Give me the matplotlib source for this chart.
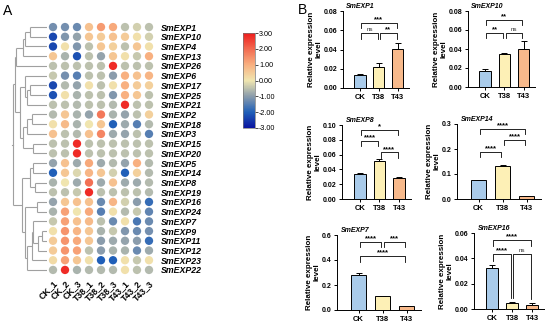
import numpy as np
import matplotlib
matplotlib.use("Agg")
import matplotlib.pyplot as plt
from matplotlib.colors import LinearSegmentedColormap, Normalize
from matplotlib.cm import ScalarMappable

plt.rcParams['font.family'] = ['Liberation Sans', 'DejaVu Sans']

# ---------------- data: heatmap ----------------
genes_hm = ["SmEXP1", "SmEXP10", "SmEXP4", "SmEXP13", "SmEXP26", "SmEXP6", "SmEXP17",
            "SmEXP25", "SmEXP21", "SmEXP2", "SmEXP18", "SmEXP3", "SmEXP15", "SmEXP20",
            "SmEXP5", "SmEXP14", "SmEXP8", "SmEXP19", "SmEXP16", "SmEXP24", "SmEXP7",
            "SmEXP9", "SmEXP11", "SmEXP12", "SmEXP23", "SmEXP22"]
samples = ["CK_1", "CK_2", "CK_3", "T38_1", "T38_2", "T38_3", "T43_1", "T43_2", "T43_3"]
hm_values = [
    [-1.2, -1.2, -1.3, 0.7, 1.3, 1.1, -0.5, -0.3, -0.5],
    [-2.3, -1.1, -0.9, 0.6, 0.5, 0.7, 0.5, 0.1, -0.3],
    [-2.3, 0.1, -1.1, -0.5, 0.6, 0.4, -0.5, 0.6, 0.1],
    [0.6, -0.7, -2.2, -0.5, -0.9, 0.6, 0.1, -0.4, 1.0],
    [-0.5, -0.5, -0.5, -0.5, -0.5, 2.8, -0.5, -0.5, -0.5],
    [-0.4, -1.2, -1.5, -0.5, -0.5, -1.0, 1.0, 0.7, 0.9],
    [-2.3, -0.6, -0.9, 0.1, -0.5, 0.1, 1.0, 0.5, 0.4],
    [-2.2, 0.1, -0.7, -0.5, -0.5, -1.1, 1.0, 0.6, -0.5],
    [-0.5, -0.5, -0.6, -0.5, -0.5, -0.6, 2.8, -0.5, -0.5],
    [-0.6, 0.6, -0.7, -0.9, 1.8, -0.7, -0.9, -0.5, 0.4],
    [0.1, 0.8, -0.7, 0.0, 0.6, -2.0, -0.8, -1.5, -0.6],
    [0.7, -0.5, -0.6, 0.7, 1.6, -0.8, -0.9, -0.5, -1.5],
    [-0.5, -0.5, 2.8, -0.5, -0.5, -0.5, -0.5, -0.5, -0.5],
    [-0.5, -0.5, 2.8, -0.5, -0.5, -0.5, -0.5, -0.5, -0.5],
    [-0.9, 0.7, -0.8, 1.1, -0.8, -0.6, -0.9, 1.0, -0.6],
    [-2.0, 0.6, -0.2, 0.9, 0.6, -0.3, -2.0, 0.4, -0.6],
    [-0.7, 0.0, -0.8, 1.9, -0.8, 0.7, -0.8, -0.8, -0.6],
    [-0.5, -0.5, -0.4, 2.8, -0.5, -0.5, -0.5, -0.5, -0.6],
    [-0.9, 0.6, 0.7, 0.7, -1.3, 0.9, -0.3, -1.0, -1.8],
    [-0.7, 1.2, 0.0, 1.1, -1.5, 0.1, -0.6, -0.4, -1.4],
    [-0.4, 1.2, 0.7, 0.8, -0.5, -1.3, 0.1, -1.6, -1.3],
    [0.1, 1.4, 0.9, 0.6, -0.7, -0.4, -1.1, -1.3, -1.2],
    [0.5, 1.4, 1.1, 0.6, -1.0, -0.8, -0.9, -1.0, -1.8],
    [0.5, 1.4, 1.2, -0.5, -1.0, -0.7, -0.7, -1.3, -0.8],
    [0.2, 1.2, 0.6, 0.1, -2.0, -2.0, 0.1, -0.4, 0.1],
    [-0.6, 2.8, -0.7, -0.6, -0.6, -0.6, 0.1, -0.5, -0.6],
]
cbar_ticks = [3, 2, 1, 0, -1, -2, -3]

# dendrogram (left, right, distance)
tree_A = ((("SmEXP1", "SmEXP10", 5.0), "SmEXP4", 6.5), "SmEXP13", 7.1)
tree_G6 = ("SmEXP6", (("SmEXP17", "SmEXP25", 5.0), "SmEXP21", 5.9), 6.5)
tree_M = ((("SmEXP2", "SmEXP18", 4.4), "SmEXP3", 5.9), ("SmEXP15", "SmEXP20", 4.1), 7.1)
tree_T = ((tree_A, "SmEXP26", 9.1), (tree_G6, tree_M, 8.0), 9.4)
tree_L1 = (("SmEXP5", "SmEXP14", 4.1), ("SmEXP8", "SmEXP19", 3.5), 5.0)
tree_L2 = (("SmEXP16", "SmEXP24", 2.9),
           ((("SmEXP7", (("SmEXP9", "SmEXP11", 1.5), "SmEXP12", 2.6), 4.1), "SmEXP23", 4.4),
            "SmEXP22", 5.9), 6.5)
tree_root = (tree_T, (tree_L1, tree_L2, 7.4), 10.0)

# ---------------- data: bar charts ----------------
bar_genes = ["SmEXP1", "SmEXP10", "SmEXP8", "SmEXP14", "SmEXP7", "SmEXP16"]
groups = ["CK", "T38", "T43"]
means = [
    [0.014, 0.022, 0.041],
    [0.017, 0.035, 0.040],
    [0.034, 0.052, 0.029],
    [0.075, 0.132, 0.012],
    [0.280, 0.110, 0.030],
    [0.032, 0.0045, 0.0035],
]
errs = [
    [0.001, 0.004, 0.006],
    [0.002, 0.001, 0.008],
    [0.001, 0.002, 0.001],
    [0.002, 0.003, 0.001],
    [0.020, 0.003, 0.003],
    [0.003, 0.001, 0.0015],
]
ymaxes = [0.08, 0.08, 0.10, 0.3, 0.6, 0.06]
ysteps = [0.02, 0.02, 0.02, 0.1, 0.2, 0.02]
brackets = [
    [(0, 1, 0.057, "ns"), (1, 2, 0.057, "**"), (0, 2, 0.068, "***")],
    [(0, 1, 0.057, "**"), (1, 2, 0.057, "ns"), (0, 2, 0.071, "**")],
    [(0, 1, 0.079, "****"), (1, 2, 0.063, "****"), (0, 2, 0.093, "*")],
    [(0, 1, 0.19, "****"), (1, 2, 0.237, "****"), (0, 2, 0.28, "****")],
    [(0, 1, 0.546, "****"), (1, 2, 0.546, "***"), (0, 2, 0.43, "****")],
    [(0, 1, 0.0437, "****"), (1, 2, 0.0437, "ns"), (0, 2, 0.0542, "****")],
]
legs_to_bar = [False, False, False, False, False, True]

# ---------------- figure ----------------
W, H = 550, 323
fig = plt.figure(figsize=(W / 100, H / 100), dpi=100)


def px_axes(l, t, r, b):
    return fig.add_axes([l / W, 1 - b / H, (r - l) / W, (b - t) / H])


cmap = LinearSegmentedColormap.from_list("hm", [
    (0.0, "#0a14a0"), (1 / 6, "#2060b8"), (2 / 6, "#8a9cac"),
    (3 / 6, "#f0e6b0"), (4 / 6, "#f8b080"), (5 / 6, "#f26a50"), (1.0, "#ee1c1c")])
norm = Normalize(-3, 3)

fig.text(3 / W, 1 - 4 / H, "A", fontsize=10, va="top", ha="left")
fig.text(298 / W, 1 - 3 / H, "B", fontsize=10, va="top", ha="left")

# heatmap dots
nrow, ncol = len(genes_hm), len(samples)
axh = px_axes(47, 22.2, 155, 274.8)
vals = np.array(hm_values)
xx, yy = np.meshgrid(np.arange(ncol), np.arange(nrow))
axh.scatter(xx.ravel(), yy.ravel(), c=vals.ravel(), cmap=cmap, norm=norm, s=36,
            edgecolors="none")
axh.set_xlim(-0.5, ncol - 0.5)
axh.set_ylim(nrow - 0.5, -0.5)
for s in axh.spines.values():
    s.set_visible(False)
axh.yaxis.tick_right()
axh.set_yticks(np.arange(nrow))
axh.set_yticklabels(genes_hm, fontsize=6.3, fontweight="bold", fontstyle="italic")
axh.tick_params(axis="y", length=0, pad=4)
axh.set_xticks(np.arange(ncol))
axh.set_xticklabels(samples, rotation=45, ha="right", va="top", rotation_mode="anchor",
                    fontsize=6.3, fontweight="bold")
axh.tick_params(axis="x", length=0, pad=3)
axh.set_facecolor("none")

# dendrogram
axd = px_axes(10, 22.2, 47, 274.8)
axd.set_xlim(10.9, 0)
axd.set_ylim(nrow - 0.5, -0.5)
axd.axis("off")
leaf_pos = {g: i for i, g in enumerate(genes_hm)}


def draw(node):
    if isinstance(node, str):
        return leaf_pos[node], 0.0
    l, r, h = node
    yl, hl = draw(l)
    yr, hr = draw(r)
    kw = dict(color="#a0a0a0", lw=0.8, solid_capstyle="butt")
    axd.plot([hl, h], [yl, yl], **kw)
    axd.plot([hr, h], [yr, yr], **kw)
    axd.plot([h, h], [yl, yr], **kw)
    return (yl + yr) / 2, h


yroot, hroot = draw(tree_root)
axd.plot([hroot, hroot + 0.3], [yroot, yroot], color="#a0a0a0", lw=0.8)

# colorbar
axc = px_axes(243, 33, 255, 128)
cb = fig.colorbar(ScalarMappable(norm=norm, cmap=cmap), cax=axc, ticks=cbar_ticks)
cb.ax.set_yticklabels([f"{t:.2f}" for t in cbar_ticks], fontsize=5.2)
cb.ax.tick_params(length=2, width=0.5, pad=1)
cb.outline.set_linewidth(0.5)
cb.outline.set_edgecolor("#777777")

# bar charts
bar_colors = ["#a9cbea", "#fdf0b6", "#f7b98b"]
boxes = [(343, 11, 409, 88), (468, 11, 535, 87), (342, 125, 411, 199),
         (457, 124, 541, 199), (337, 235, 421, 310), (474, 233, 544, 309)]
for k, g in enumerate(bar_genes):
    l, t, r, b = boxes[k]
    ax = px_axes(l, t, r, b)
    x = np.arange(len(groups))
    m = np.array(means[k])
    e = np.array(errs[k])
    ax.errorbar(x, m, yerr=[np.zeros_like(e), e], fmt="none", ecolor="black",
                elinewidth=0.7, capsize=2.5, capthick=0.7, zorder=2)
    ax.bar(x, m, width=0.6, color=bar_colors, edgecolor="black", linewidth=0.7, zorder=3)
    ymax = ymaxes[k]
    ax.set_ylim(0, ymax)
    ax.set_xlim(-0.9, 2.6)
    ticks = np.arange(0, ymax + 1e-9, ysteps[k])
    ax.set_yticks(ticks)
    dec = 2 if ysteps[k] < 0.1 else 1
    ax.set_yticklabels([f"{v:.{dec}f}" for v in ticks], fontsize=5, fontweight="bold")
    ax.set_xticks(x)
    ax.set_xticklabels(groups, fontsize=5.5, fontweight="bold")
    for sp in ["top", "right"]:
        ax.spines[sp].set_visible(False)
    for sp in ["left", "bottom"]:
        ax.spines[sp].set_linewidth(0.7)
    ax.tick_params(length=2.5, width=0.7, pad=1.5)
    ax.set_ylabel("Relative expression\nlevel", fontsize=5.8, fontweight="bold",
                  labelpad=1, linespacing=1.0)
    ax.text(0.05, 1.01, g, transform=ax.transAxes, fontsize=5, fontweight="bold",
            fontstyle="italic", ha="left", va="bottom")
    leg = 0.07 * ymax
    for (i, j, yb, lab) in brackets[k]:
        xi, xj = i + 0.06, j - 0.06
        if legs_to_bar[k] and j - i == 1:
            yi = m[i] + e[i] + 0.05 * ymax
            yj = m[j] + e[j] + 0.05 * ymax
        else:
            yi = yj = yb - leg
        ax.plot([xi, xi, xj, xj], [yi, yb, yb, yj], color="black", lw=0.6,
                clip_on=False)
        if lab == "ns":
            ax.text((xi + xj) / 2, yb + 0.01 * ymax, lab, fontsize=4.5, ha="center",
                    va="bottom", color="#333333")
        else:
            ax.text((xi + xj) / 2, yb - 0.005 * ymax, lab, fontsize=5.5,
                    fontweight="bold", ha="center", va="bottom")

fig.savefig("out.png", dpi=100)
